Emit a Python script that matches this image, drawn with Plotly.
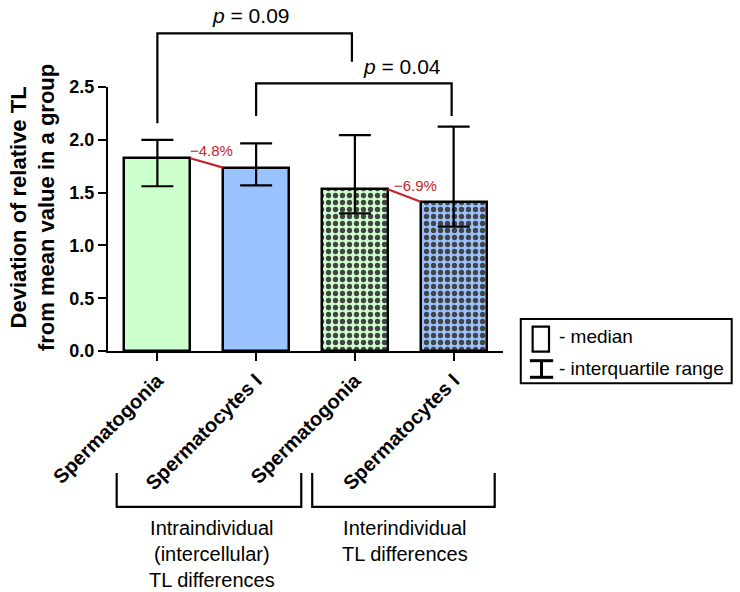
import plotly.graph_objects as go

# ---------------- data ----------------
categories = ["Spermatogonia", "Spermatocytes I", "Spermatogonia", "Spermatocytes I"]
medians = [1.825, 1.736, 1.531, 1.414]
q_upper = [2.000, 1.967, 2.045, 2.124]
q_lower = [1.560, 1.569, 1.304, 1.177]
bar_colors = ["#ccffcc", "#99c2ff", "#ccffcc", "#99c2ff"]
bar_patterns = ["", "", ".", "."]
pct_labels = ["\u22124.8%", "\u22126.9%"]
pct_pairs = [(0, 1), (2, 3)]
p_labels = ["<i>p</i> = 0.09", "<i>p</i> = 0.04"]
p_pairs = [(0, 2), (1, 3)]
group_labels = ["Intraindividual<br>(intercellular)<br>TL differences",
                "Interindividual<br>TL differences"]
y_ticks = [0.0, 0.5, 1.0, 1.5, 2.0, 2.5]

# ---------------- layout helpers ----------------
FONT = "Arial, Liberation Sans, sans-serif"
X_RANGE = [-0.5, 3.5]
Y_RANGE = [0, 2.5]
BAR_W = 0.667
RED = "#c0262c"


def xp(x):
    return (x - X_RANGE[0]) / (X_RANGE[1] - X_RANGE[0])


def yp(y):
    return (y - Y_RANGE[0]) / (Y_RANGE[1] - Y_RANGE[0])


xs = list(range(len(categories)))
err_plus = [u - m for u, m in zip(q_upper, medians)]
err_minus = [m - l for m, l in zip(medians, q_lower)]

fig = go.Figure()
fig.add_trace(go.Bar(
    x=xs, y=medians, width=BAR_W,
    marker=dict(
        color=bar_colors,
        line=dict(color="black", width=2.5),
        pattern=dict(shape=bar_patterns, fgcolor="#787878", fgopacity=1,
                     size=7, solidity=0.45, fillmode="overlay"),
    ),
    error_y=dict(type="data", symmetric=False, array=err_plus, arrayminus=err_minus,
                 color="black", thickness=2.2, width=16),
    showlegend=False, hoverinfo="skip",
))

annotations = []
shapes = []

# red connectors with percentage labels
pct_offsets = [(0.05, 0.069), (0.11, 0.041)]
for (a, b), lab, (dx, dy) in zip(pct_pairs, pct_labels, pct_offsets):
    fig.add_trace(go.Scatter(
        x=[a + BAR_W / 2, b - BAR_W / 2], y=[medians[a], medians[b]],
        mode="lines", line=dict(color=RED, width=2.2),
        showlegend=False, hoverinfo="skip"))
    annotations.append(dict(
        x=(a + b) / 2 + dx, y=max(medians[a], medians[b]) + dy, xref="x", yref="y",
        xanchor="center", yanchor="middle",
        text=lab, showarrow=False, font=dict(family=FONT, size=15, color=RED)))

# significance brackets (above the plot)
bracket_geom = [
    # (x_left, x_right, top, left_leg_bottom, right_leg_bottom, text_x, text_y)
    (p_pairs[0][0], p_pairs[0][1] - 0.03, 3.008, 2.156, 2.74, 0.952, 3.18),
    (p_pairs[1][0], p_pairs[1][1] - 0.02, 2.535, 2.225, 2.225, 2.48, 2.69),
]
for (x0, x1, top, lb, rb, tx, ty), lab in zip(bracket_geom, p_labels):
    path = (f"M {xp(x0)},{yp(lb)} L {xp(x0)},{yp(top)} "
            f"L {xp(x1)},{yp(top)} L {xp(x1)},{yp(rb)}")
    shapes.append(dict(type="path", xref="paper", yref="paper", path=path,
                       line=dict(color="black", width=2.2)))
    annotations.append(dict(x=xp(tx), y=yp(ty), xref="paper", yref="paper",
                            xanchor="center", yanchor="middle",
                            text=lab, showarrow=False,
                            font=dict(family=FONT, size=21, color="black")))

# group brackets below the axis
group_geom = [(-0.412, 1.457, 0.2625), (1.568, 3.416, 0.752)]
for (g0, g1, cx), lab in zip(group_geom, group_labels):
    top, bot = yp(-1.155), yp(-1.477)
    path = (f"M {xp(g0)},{top} L {xp(g0)},{bot} L {xp(g1)},{bot} L {xp(g1)},{top}")
    shapes.append(dict(type="path", xref="paper", yref="paper", path=path,
                       line=dict(color="black", width=2.2)))
    annotations.append(dict(x=cx, y=-0.621, xref="paper", yref="paper",
                            xanchor="center", yanchor="top", align="center",
                            text=lab, showarrow=False,
                            font=dict(family=FONT, size=20, color="black")))

# key box
shapes.append(dict(type="rect", xref="paper", yref="paper",
                   x0=1.045, x1=1.579, y0=-0.1223, y1=0.1212,
                   line=dict(color="black", width=2), fillcolor="white"))
shapes.append(dict(type="rect", xref="paper", yref="paper",
                   x0=1.075, x1=1.1165, y0=-0.0027, y1=0.092,
                   line=dict(color="black", width=2.2)))
shapes.append(dict(type="line", xref="paper", yref="paper",
                   x0=1.0975, x1=1.0975, y0=-0.0996, y1=-0.0367,
                   line=dict(color="black", width=3)))
for yy in (-0.0367, -0.0996):
    shapes.append(dict(type="line", xref="paper", yref="paper",
                       x0=1.068, x1=1.127, y0=yy, y1=yy,
                       line=dict(color="black", width=3)))
annotations.append(dict(x=1.137, y=0.0568, xref="paper", yref="paper",
                        xanchor="left", yanchor="middle", text="- median", showarrow=False,
                        font=dict(family=FONT, size=19, color="black")))
annotations.append(dict(x=1.137, y=-0.0644, xref="paper", yref="paper",
                        xanchor="left", yanchor="middle", text="- interquartile range",
                        showarrow=False,
                        font=dict(family=FONT, size=19, color="black")))

# y axis title
annotations.append(dict(x=-0.19, y=0.545, xref="paper", yref="paper",
                        textangle=-90, xanchor="center", yanchor="middle",
                        text="Deviation of relative TL<br>from mean value in a group",
                        showarrow=False,
                        font=dict(family=FONT, size=22, color="black", weight="bold")))

fig.update_layout(
    width=740, height=592,
    margin=dict(l=108, r=237, t=87, b=241),
    plot_bgcolor="white", paper_bgcolor="white",
    font=dict(family=FONT, color="black"),
    shapes=shapes, annotations=annotations,
    bargap=0,
)
fig.update_xaxes(
    range=X_RANGE, tickvals=xs, ticktext=categories, tickangle=-45,
    tickfont=dict(family=FONT, size=20, color="black", weight="bold"),
    ticks="outside", ticklen=8, tickwidth=2, tickcolor="black",
    showline=True, linewidth=2, linecolor="black",
    showgrid=False, zeroline=False,
)
fig.update_yaxes(
    range=Y_RANGE, tickvals=y_ticks, tickformat=".1f",
    tickfont=dict(family=FONT, size=18, color="black", weight="bold"),
    ticks="outside", ticklen=8, tickwidth=2, tickcolor="black",
    showline=True, linewidth=2, linecolor="black",
    showgrid=False, zeroline=False,
)

# remove the default 8px page margin so the 740x592 figure fills the window exactly
fig.write_html("out.html", config={"displayModeBar": False},
               post_script="document.body.style.margin='0px';")
